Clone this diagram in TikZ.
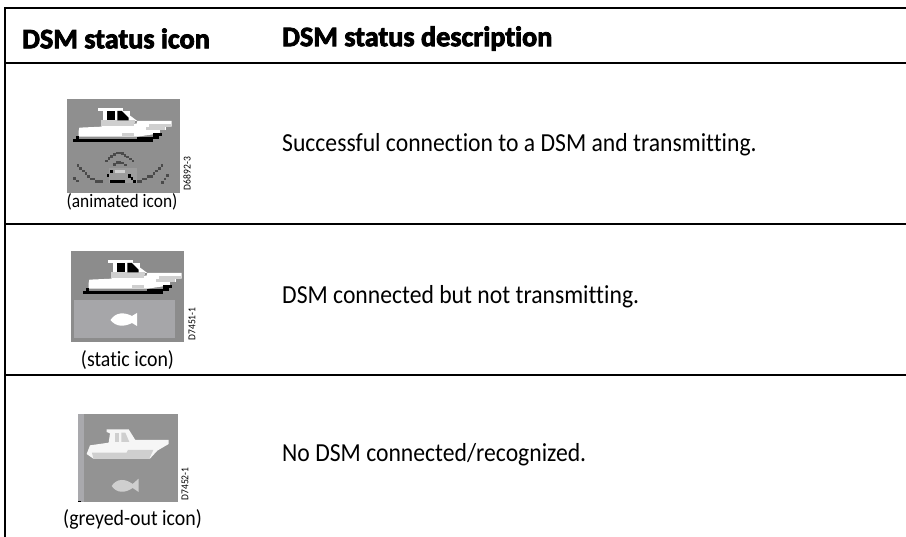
\documentclass[tikz,border=0pt]{standalone}
\usepackage{fontspec}
\setmainfont{Carlito}[Ligatures=NoCommon,FakeStretch=0.91]
\newfontfamily\hdrfont{Carlito}[Ligatures=NoCommon,BoldFeatures={FakeBold=3}]
\definecolor{iconA}{HTML}{8F8F8F}
\definecolor{iconB}{HTML}{8C8C8C}
\definecolor{iconC}{HTML}{939393}
\definecolor{panelB}{HTML}{A6A6A9}
\definecolor{stripC}{HTML}{A9A9AD}
\definecolor{softG}{HTML}{CFCFCF}
\definecolor{waveG}{HTML}{4A4A4A}
\tikzset{
  rule/.style={line width=1.7pt,black},
  bodytext/.style={anchor=base west,inner sep=0pt,font=\fontsize{26}{30}\selectfont},
  headtext/.style={anchor=west,inner sep=0pt,font=\hdrfont\bfseries\fontsize{28.2}{32}\selectfont},
  captext/.style={anchor=center,inner sep=0pt,font=\fontsize{21.8}{25}\selectfont},
  capsmall/.style={anchor=center,inner sep=0pt,font=\fontsize{19.1}{22}\selectfont},
  codetext/.style={anchor=center,inner sep=0pt,rotate=90,font=\fontsize{10.5}{12}\selectfont},
}
\newcommand{\sharpboat}{%
  % hull
  \fill[white] (58,98) -- (125,95) -- (125,86) -- (230,86) -- (232,78) -- (335,78) -- (335,95) -- (318,95) -- (318,105) -- (300,105) -- (300,115) -- (232,125) -- (56,125) -- (56,108) -- cycle;
  % shaded patches
  \fill[softG] (186,114) rectangle (222,124);
  \fill[softG] (268,86) rectangle (334,96);
  \fill[softG] (258,97) rectangle (316,105);
  \fill[softG] (124,84) rectangle (222,92);
  % cabin
  \fill[white] (114,39) rectangle (190,47);
  \fill[white] (130,48) rectangle (210,76);
  \fill[white] (205,58) -- (232,78) -- (205,78) -- cycle;
  \fill[softG] (124,76) rectangle (226,85);
  \fill[black] (140,48) rectangle (164,76);
  \fill[black] (172,48) -- (186,48) -- (206,68) -- (206,76) -- (172,76) -- cycle;
  % keel and stern
  \fill[black] (40,132) rectangle (280,141);
  \fill[black] (48,124) rectangle (56,132);
  \fill[black] (232,125) rectangle (296,133);
  \fill[black] (280,114) rectangle (306,124);
  \fill[black] (280,124) rectangle (296,132);
}
\begin{document}
\begin{tikzpicture}[x=1pt,y=-1pt]
\useasboundingbox (0,0) rectangle (906,537);
% table rules
\coordinate (tl) at (5,8);
\coordinate (tr) at (906,8);
\coordinate (bl) at (5,537);
\coordinate (hl) at (5,63);
\coordinate (hr) at (906,63);
\coordinate (al) at (5,224);
\coordinate (ar) at (906,224);
\coordinate (cl) at (5,375);
\coordinate (cr) at (906,375);
\draw[rule] (tr) -- (tl) -- (bl);
\draw[rule] (hl) -- (hr);
\draw[rule] (al) -- (ar);
\draw[rule] (cl) -- (cr);
% header
\node[headtext] (h1) at (22,38.5) {DSM status icon};
\node[headtext] (h2) at (282,38.5) {DSM status description};
% icon 1
\fill[iconA] (67,99) rectangle (180,193);
\begin{scope}[shift={(60,95)},x=0.3333pt,y=-0.3333pt]
  \sharpboat
  \fill[iconA!88!white] (148,218) rectangle (230,265);
  \foreach \a/\b in {50/208,58/216,66/224,74/232,82/240,90/248,98/248,105/256,113/256,121/256,40/246,48/254,
    135/194,143/186,151/180,159/174,167/170,175/170,183/172,191/178,199/182,207/188,215/194,
    160/204,168/198,176/198,184/200,192/206,
    230/256,238/256,246/248,254/248,262/240,270/240,278/232,286/224,294/216,302/208,
    304/258,311/248,319/238}
    \fill[waveG] (\a,\b) rectangle ++(8,8);
  \fill[black] (150,226) rectangle ++(8,8);
  \fill[black] (140,238) rectangle ++(8,8);
  \fill[black] (150,256) rectangle (196,264);
  \fill[black] (204,238) rectangle ++(8,10);
  \fill[black] (212,246) rectangle ++(8,10);
  \fill[black] (220,256) rectangle ++(8,8);
  \fill[softG] (166,226) rectangle (196,234);
\end{scope}
\node[codetext] (c1) at (187,173.5) {D6892-3};
\node[capsmall] (l1) at (122,202) {(animated icon)};
\node[bodytext] (d1) at (282,152) {Successful connection to a DSM and transmitting.};
% icon 2
\fill[iconB] (71,251) rectangle (184,342);
\fill[panelB] (74,300) rectangle (175,338);
\begin{scope}[shift={(70,247)},x=0.3333pt,y=-0.3333pt]
  \sharpboat
\end{scope}
\fill[white] (110.5,320) .. controls (116,312) and (124,312) .. (132,316) -- (137,313) -- (137,326) -- (132,323) .. controls (124,327) and (116,327) .. (110.5,320) -- cycle;
\node[codetext] (c2) at (192,324) {D7451-1};
\node[captext] (l2) at (127.5,360) {(static icon)};
\node[bodytext] (d2) at (282,304) {DSM connected but not transmitting.};
% icon 3
\fill[iconC] (78,414) rectangle (178,502);
\fill[stripC] (78,414) rectangle (84,502);
\fill[black] (78,501) rectangle (81,502.2);
\begin{scope}[shift={(60,410)},x=0.3333pt,y=-0.3333pt]
  \fill[white!92!iconC] (140,58) -- (206,58) -- (226,90) -- (326,90) -- (326,102) -- (292,122) -- (270,146) -- (100,146) -- (80,132) -- (90,106) -- (146,98) -- (150,70) -- (140,66) -- cycle;
  \fill[softG] (165,68) rectangle (178,96);
  \fill[softG] (184,68) -- (196,68) -- (208,96) -- (184,96) -- cycle;
  \fill[softG] (96,128) -- (200,128) -- (204,120) -- (280,120) -- (268,146) -- (100,146) -- cycle;
  \fill[softG] (155,228) .. controls (170,205) and (195,205) .. (218,222) -- (236,206) -- (236,246) -- (218,234) .. controls (195,250) and (170,250) .. (155,228) -- cycle;
\end{scope}
\node[codetext] (c3) at (185,484) {D7452-1};
\node[captext] (l3) at (132.5,519) {(greyed-out icon)};
\node[bodytext] (d3) at (282,462) {No DSM connected/recognized.};
\end{tikzpicture}
\end{document}
